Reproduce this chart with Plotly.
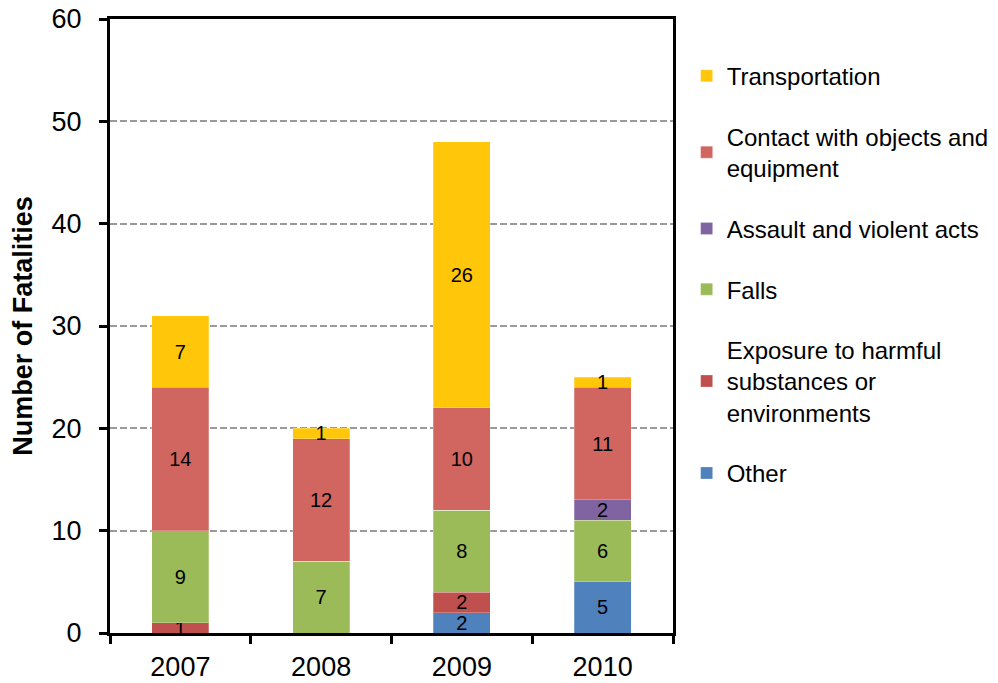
import plotly.graph_objects as go

years = ["2007", "2008", "2009", "2010"]

# stacked bottom to top
other = [0, 0, 2, 5]
exposure = [1, 0, 2, 0]
falls = [9, 7, 8, 6]
assault = [0, 0, 0, 2]
contact = [14, 12, 10, 11]
transportation = [7, 1, 26, 1]

series = [
    ("Other", other, "#4F81BD"),
    ("Exposure to harmful<br>substances or<br>environments", exposure, "#C0504D"),
    ("Falls", falls, "#9BBB59"),
    ("Assault and violent acts", assault, "#8064A2"),
    ("Contact with objects and<br>equipment", contact, "#D0665F"),
    ("Transportation", transportation, "#FFC60A"),
]

fig = go.Figure()

for i, (name, vals, color) in enumerate(series):
    fig.add_trace(go.Bar(
        x=years,
        y=vals,
        name=name,
        legendgroup=str(i),
        legendrank=len(series) - i,
        marker_color=color,
        marker_line=dict(width=0.5, color="rgba(255,255,255,0.5)"),
        text=[str(v) if v else "" for v in vals],
        textposition="inside",
        insidetextanchor="middle",
        textangle=0,
        textfont=dict(color="black", size=20),
        cliponaxis=False,
    ))

fig.update_layout(
    barmode="stack",
    bargap=0.595,
    width=998,
    height=683,
    plot_bgcolor="white",
    paper_bgcolor="white",
    font=dict(family="Liberation Sans, Arial", size=22, color="black"),
    margin=dict(l=102, r=333, t=11, b=58),
    uniformtext=dict(minsize=20, mode="show"),
    legend=dict(
        xref="container", yref="container",
        x=0.68, y=0.933,
        xanchor="left", yanchor="top",
        traceorder="grouped",
        tracegroupgap=26.5,
        font=dict(size=24),
        itemwidth=30,
        maxheight=1.0,
    ),
    showlegend=True,
)

fig.update_yaxes(
    title_text="<b>Number of Fatalities</b>",
    title_font=dict(size=27),
    title_standoff=28,
    automargin=False,
    range=[0, 60],
    dtick=10,
    tickfont=dict(size=27),
    ticklabelstandoff=12,
    ticklabeloverflow="allow",
    showgrid=True,
    gridcolor="#9A9A9A",
    griddash="7px,3px",
    gridwidth=1.5,
    showline=True,
    linecolor="black",
    linewidth=3,
    mirror=True,
    ticks="outside",
    ticklen=8,
    tickwidth=3,
    tickcolor="black",
    zeroline=False,
)

fig.update_xaxes(
    tickfont=dict(size=27),
    ticklabelstandoff=8,
    automargin=False,
    showline=True,
    linecolor="black",
    linewidth=3,
    mirror=True,
    ticks="outside",
    tickson="boundaries",
    ticklen=8,
    tickwidth=3,
    tickcolor="black",
)

fig.write_html("out.html")
